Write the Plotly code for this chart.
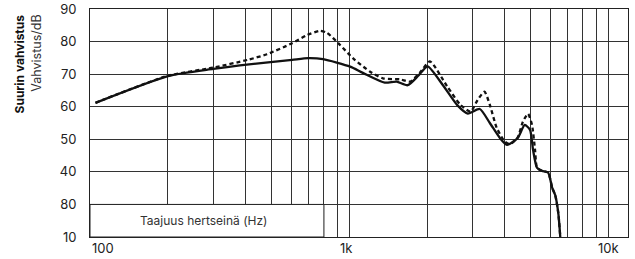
import math
import plotly.graph_objects as go

# Solid curve (frequency in Hz, gain in dB)
solid_freq = [105, 200, 299, 379, 603, 696, 794, 1010, 1131, 1374, 1526, 1685, 1850, 2011, 2309,
              2617, 2876, 3198, 3496, 3823, 4070, 4480, 4767, 4998, 5135, 5321, 5560, 5868,
              6087, 6250, 6424, 6540]
solid_db = [61.2, 69.4, 71.6, 72.7, 74.4, 74.9, 74.6, 72.3, 70.4, 67.4, 67.7, 66.6, 69.5, 72.4, 66.5,
            60.5, 57.9, 59.3, 55.0, 50.4, 48.3, 50.4, 54.4, 52.9, 46.7, 41.2, 40.3, 39.8,
            35.1, 32.9, 27.4, 20.0]

# Dashed curve
dashed_freq = [105, 200, 299, 407, 482, 603, 688, 772, 822, 922, 1035, 1203, 1351, 1574, 1724,
               1880, 2053, 2394, 2692, 2946, 3138, 3333, 3496, 3717, 3996, 4190, 4480, 4691,
               4909, 5086, 5226, 5321, 5560, 5868, 6087, 6250, 6424, 6540]
dashed_db = [61.2, 69.5, 72.0, 74.4, 76.1, 79.5, 82.0, 83.3, 82.7, 79.0, 74.9, 70.8, 68.7, 68.4, 67.7,
             70.5, 73.9, 66.2, 60.6, 58.5, 62.1, 64.6, 60.6, 53.5, 49.3, 48.5, 50.6, 55.4,
             57.8, 54.4, 46.7, 41.2, 40.3, 39.8, 35.1, 32.9, 27.4, 20.0]

# Axis ticks
y_tickvals = [20, 30, 40, 50, 60, 70, 80, 90]
y_ticktext = ["10", "80", "40", "50", "60", "70", "80", "90"]
x_tickvals = [100, 1000, 10000]
x_ticktext = ["100", "1k", "10k"]
x_minor = [200, 300, 400, 500, 600, 700, 800, 900,
           2000, 3000, 4000, 5000, 6000, 7000, 8000, 9000]

FONT = "Inter, Roboto, 'Open Sans', sans-serif"

fig = go.Figure()
fig.add_trace(go.Scatter(x=dashed_freq, y=dashed_db, mode="lines",
                         line=dict(color="#111111", width=2.3, dash="4px,3px", shape="spline", smoothing=0.6),
                         hoverinfo="skip", showlegend=False))
fig.add_trace(go.Scatter(x=solid_freq, y=solid_db, mode="lines",
                         line=dict(color="#111111", width=2.3, shape="spline", smoothing=0.6),
                         hoverinfo="skip", showlegend=False))

fig.update_layout(
    width=635, height=259, autosize=False,
    margin=dict(l=90, r=7, t=9, b=22, pad=0),
    paper_bgcolor="white", plot_bgcolor="white",
    font=dict(family=FONT, color="#222222"),
    xaxis=dict(type="log", range=[2, 4.077], automargin=False,
               tickvals=x_tickvals + x_minor, ticktext=[""] * (len(x_tickvals) + len(x_minor)),
               showgrid=True, gridcolor="#333333", gridwidth=1,
               showline=True, linecolor="#222222", linewidth=1, mirror=True,
               ticks="", zeroline=False, fixedrange=True),
    yaxis=dict(range=[20, 90], tickvals=y_tickvals, ticktext=y_ticktext, automargin=False,
               showgrid=True, gridcolor="#333333", gridwidth=1,
               showline=True, linecolor="#222222", linewidth=1, mirror=True,
               ticks="", ticklabelstandoff=10, zeroline=False,
               tickfont=dict(size=13, color="#222222"), fixedrange=True),
)

# White box with axis caption
fig.add_shape(type="rect", xref="x", yref="y", x0=100, x1=800, y0=20, y1=30,
              fillcolor="white", line=dict(color="#222222", width=1), layer="above")
fig.add_annotation(x=2.44, y=25, xref="x", yref="y", text="Taajuus hertseinä (Hz)",
                   showarrow=False, font=dict(size=12, color="#333333"))

# X tick labels
anchors = ["left", "center", "center"]
shifts = [0, -3, 0]
for v, t, a, s in zip(x_tickvals, x_ticktext, anchors, shifts):
    fig.add_annotation(x=math.log10(v), y=0, xref="x", yref="paper", yanchor="top",
                       xanchor=a, xshift=s, yshift=-1, text=t, showarrow=False,
                       font=dict(size=13, color="#222222"))

# Y axis titles
fig.add_annotation(x=-0.131, y=0.985, xref="paper", yref="paper", textangle=-90,
                   xanchor="center", yanchor="top", showarrow=False,
                   text="<b>Suurin vahvistus</b>", font=dict(size=12, color="#111111"))
fig.add_annotation(x=-0.099, y=0.985, xref="paper", yref="paper", textangle=-90,
                   xanchor="center", yanchor="top", showarrow=False,
                   text="Vahvistus/dB", font=dict(size=12.5, color="#333333"))

fig.write_html("out.html", config={"displayModeBar": False},
               post_script="document.body.style.margin='0';document.body.style.overflow='hidden';")
